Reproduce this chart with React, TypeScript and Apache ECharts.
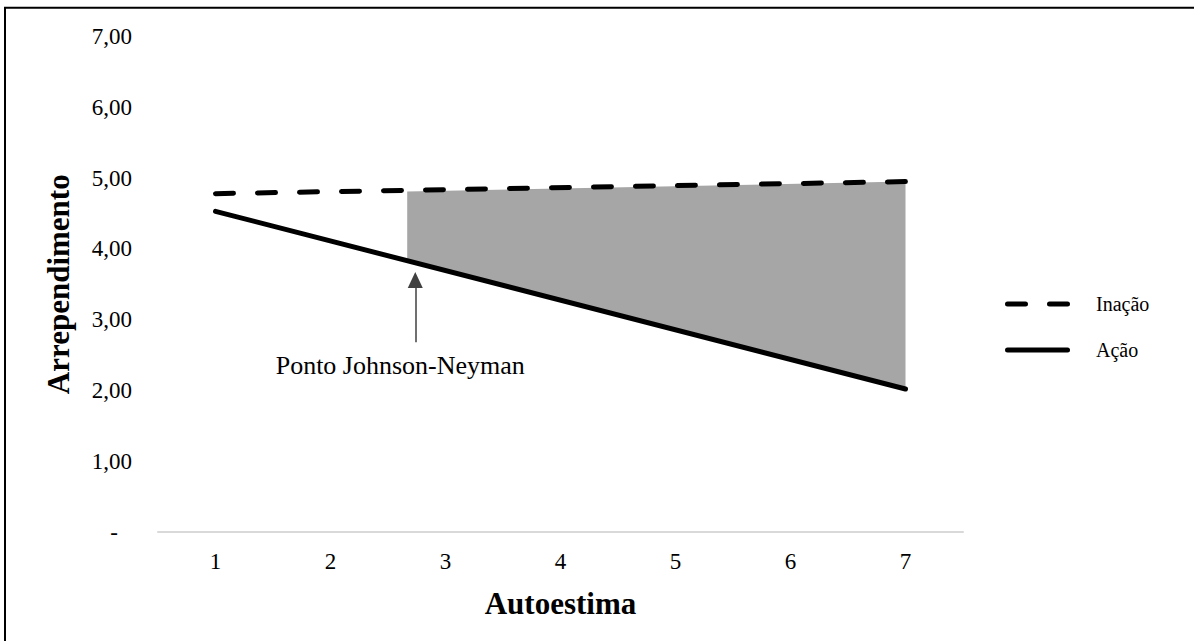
import React, { useEffect, useRef } from 'react';
import * as echarts from 'echarts';

const categories = ['1', '2', '3', '4', '5', '6', '7'];
const lineX = [1, 7];
const inacao = [4.78, 4.95];
const acao = [4.53, 2.02];
const shadeX = [2.667, 7];
const shadeUpper = [4.81, 4.95];
const shadeLower = [3.83, 2.02];
const arrowX = 2.737;
const arrowY = [2.68, 3.56];
const seriesNames = ['Inação', 'Ação'];
const jnLabel = 'Ponto Johnson-Neyman';

const FONT = '"Liberation Serif", "Times New Roman", serif';

export default function App() {
  const ref = useRef<HTMLDivElement>(null);
  useEffect(() => {
    if (!ref.current) return;
    const chart = echarts.init(ref.current, null, { renderer: 'svg' });
    const legendItems = seriesNames.map((name, i) => ({
      type: 'group',
      left: 1005,
      top: 294 + i * 46,
      children: [
        {
          type: 'line',
          shape: { x1: 2.5, y1: 10, x2: 62.5, y2: 10 },
          style: {
            stroke: '#000',
            lineWidth: 5,
            lineCap: 'round',
            lineDash: i === 0 ? [18, 24] : null,
          },
        },
        {
          type: 'text',
          x: 91,
          y: 10,
          style: {
            text: name,
            fontFamily: FONT,
            fontSize: 20,
            fill: '#000',
            verticalAlign: 'middle',
          },
        },
      ],
    }));
    const option: any = {
      animation: false,
      backgroundColor: '#fff',
      textStyle: { fontFamily: FONT },
      grid: { left: 158, right: 231, top: 36.5, bottom: 109, containLabel: false },
      graphic: [
        {
          type: 'rect',
          shape: { x: 5, y: 7.8, width: 1400, height: 1000 },
          style: { fill: 'none', stroke: '#000', lineWidth: 2 },
          silent: true,
        },
        ...legendItems,
      ],
      xAxis: [
        {
          type: 'category',
          data: categories,
          name: 'Autoestima',
          nameLocation: 'middle',
          nameGap: 56,
          nameTextStyle: { fontFamily: FONT, fontSize: 31, fontWeight: 'bold', color: '#000' },
          axisLine: { show: true, lineStyle: { color: '#d9d9d9', width: 2 } },
          axisTick: { show: false },
          axisLabel: { fontFamily: FONT, fontSize: 23, color: '#000', margin: 18 },
          splitLine: { show: false },
        },
        { type: 'value', min: 0.5, max: 7.5, show: false },
      ],
      yAxis: {
        type: 'value',
        min: 0,
        max: 7,
        interval: 1,
        name: 'Arrependimento',
        nameLocation: 'middle',
        nameRotate: 90,
        nameGap: 84,
        nameTextStyle: { fontFamily: FONT, fontSize: 31, fontWeight: 'bold', color: '#000' },
        axisLine: { show: false },
        axisTick: { show: false },
        splitLine: { show: false },
        axisLabel: {
          fontFamily: FONT,
          fontSize: 23,
          color: '#000',
          margin: 26,
          formatter: (v: number) => (v === 0 ? '{d|-}' : v.toFixed(2).replace('.', ',')),
          rich: { d: { fontFamily: FONT, fontSize: 23, color: '#000', padding: [0, 14, 0, 0] } },
        },
      },
      series: [
        {
          type: 'custom',
          xAxisIndex: 1,
          yAxisIndex: 0,
          z: 1,
          silent: true,
          data: [[shadeX[0], shadeUpper[0]]],
          renderItem: (_params: any, api: any) => {
            const pts = [
              api.coord([shadeX[0], shadeUpper[0]]),
              api.coord([shadeX[1], shadeUpper[1]]),
              api.coord([shadeX[1], shadeLower[1]]),
              api.coord([shadeX[0], shadeLower[0]]),
            ];
            return { type: 'polygon', shape: { points: pts }, style: { fill: '#a6a6a6' } };
          },
        },
        {
          name: seriesNames[0],
          type: 'line',
          xAxisIndex: 1,
          z: 3,
          symbol: 'none',
          data: lineX.map((x, i) => [x, inacao[i]]),
          lineStyle: { color: '#000', width: 5, type: [18, 24], cap: 'round' },
          itemStyle: { color: '#000' },
        },
        {
          name: seriesNames[1],
          type: 'line',
          xAxisIndex: 1,
          z: 3,
          symbol: 'none',
          data: lineX.map((x, i) => [x, acao[i]]),
          lineStyle: { color: '#000', width: 5, type: 'solid', cap: 'round' },
          itemStyle: { color: '#000' },
        },
        {
          name: 'jn',
          type: 'line',
          xAxisIndex: 1,
          z: 2,
          symbol: 'none',
          data: [[arrowX, arrowY[0]]],
          lineStyle: { opacity: 0 },
          markLine: {
            silent: true,
            symbol: ['none', 'triangle'],
            symbolSize: [15, 16],
            lineStyle: { color: '#404040', width: 1.5, type: 'solid' },
            label: {
              show: true,
              position: 'start',
              distance: 10,
              formatter: jnLabel,
              fontFamily: FONT,
              fontSize: 26,
              color: '#000',
              padding: [0, 30, 0, 0],
            },
            data: [[{ coord: [arrowX, arrowY[0]] }, { coord: [arrowX, arrowY[1]] }]],
          },
        },
      ],
    };
    chart.setOption(option);
    return () => chart.dispose();
  }, []);
  return (
    <div
      ref={ref}
      style={{ position: 'fixed', left: 0, top: 0, width: 1194, height: 641, background: '#fff' }}
    />
  );
}
